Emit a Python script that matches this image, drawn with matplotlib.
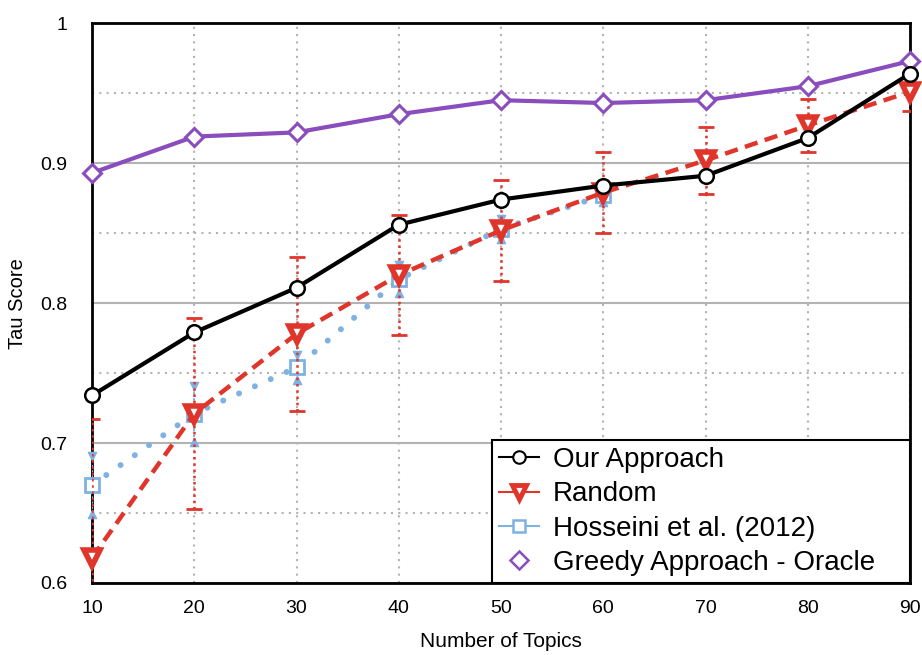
import numpy as np
import matplotlib.pyplot as plt
from matplotlib.ticker import MultipleLocator, FixedLocator

plt.rcParams['font.family'] = ['Liberation Sans', 'DejaVu Sans']

topics = [10, 20, 30, 40, 50, 60, 70, 80, 90]
ours = [0.734, 0.779, 0.811, 0.856, 0.874, 0.884, 0.891, 0.918, 0.964]
greedy = [0.893, 0.919, 0.922, 0.935, 0.945, 0.943, 0.945, 0.955, 0.973]
rand = [0.618, 0.721, 0.778, 0.820, 0.852, 0.879, 0.902, 0.927, 0.951]
rand_err = [0.099, 0.068, 0.055, 0.043, 0.036, 0.029, 0.024, 0.019, 0.014]
hoss_x = [10, 20, 30, 40, 50, 60]
hoss = [0.670, 0.721, 0.754, 0.817, 0.853, 0.877]
hoss_err = [0.021, 0.020, 0.009, 0.010, 0.007, 0.005]

red = '#e0352b'
blue = '#7fb2e3'
purple = '#8a4dbd'
grey = '#b3b3b3'

fig = plt.figure(figsize=(9.22, 6.55), dpi=100)
ax = fig.add_axes([0.0998, 0.110, 0.8872, 0.8545])

# grids
ax.yaxis.set_major_locator(FixedLocator([0.6, 0.7, 0.8, 0.9, 1.0]))
ax.yaxis.set_minor_locator(MultipleLocator(0.05))
ax.xaxis.set_major_locator(FixedLocator(topics))
ax.grid(axis='y', which='major', color=grey, lw=1.5, ls='-')
ax.grid(axis='y', which='minor', color=grey, lw=1.5, ls=(0, (1, 2.5)))
ax.grid(axis='x', which='major', color=grey, lw=1.5, ls=(0, (1, 2.5)))
ax.set_axisbelow(True)

# Hosseini
eb = ax.errorbar(hoss_x, hoss, yerr=hoss_err, fmt='none', ecolor=blue,
                 elinewidth=1.5, capsize=0, zorder=3)
eb[2][0].set_linestyle((0, (1, 1.5)))
ax.scatter(hoss_x, np.array(hoss) + np.array(hoss_err), marker='v', s=35,
           color=blue, zorder=3, clip_on=False)
ax.scatter(hoss_x, np.array(hoss) - np.array(hoss_err), marker='^', s=35,
           color=blue, zorder=3, clip_on=False)
ax.plot(hoss_x, hoss, color=blue, lw=4.3, ls=(0, (0.01, 2.9)),
        dash_capstyle='round', zorder=3)
ax.plot(hoss_x, hoss, ls='none', marker='s', ms=10, mfc='white', mec=blue,
        mew=2, zorder=4, clip_on=False)

# Random
eb = ax.errorbar(topics, rand, yerr=rand_err, fmt='none', ecolor=red,
                 elinewidth=1.8, capsize=6, capthick=2, zorder=5)
eb[2][0].set_linestyle((0, (1, 1.5)))
ax.plot(topics, rand, color=red, lw=3.2, ls=(0, (3, 1.7)), zorder=5)
ax.plot(topics, rand, ls='none', marker='v', ms=12, mfc='white', mec=red,
        mew=4, zorder=6, clip_on=False)

# Greedy
ax.plot(topics, greedy, color=purple, lw=3, zorder=6)
ax.plot(topics, greedy, ls='none', marker='D', ms=9, mfc='white', mec=purple,
        mew=2.2, zorder=7, clip_on=False)

# Our approach
ax.plot(topics, ours, color='black', lw=3, zorder=7)
ax.plot(topics, ours, ls='none', marker='o', ms=10.5, mfc='white', mec='black',
        mew=1.8, zorder=8, clip_on=False)

# legend proxies
h1, = ax.plot([], [], color='black', lw=1.5, marker='o', ms=9, mfc='white', mec='black', mew=1.5)
h2, = ax.plot([], [], color=red, lw=1.5, marker='v', ms=10, mfc='white', mec=red, mew=3.5)
h3, = ax.plot([], [], color=blue, lw=1.5, marker='s', ms=9, mfc='white', mec=blue, mew=1.8)
h4, = ax.plot([], [], color=purple, lw=0, marker='D', ms=9, mfc='white', mec=purple, mew=1.8)
leg = ax.legend([h1, h2, h3, h4],
                ['Our Approach', 'Random', 'Hosseini et al. (2012)', 'Greedy Approach - Oracle'],
                loc='lower left', bbox_to_anchor=(0.489, 0.0, 0.511, 0.25), mode='expand',
                borderaxespad=0, fontsize=20, handlelength=1.45,
                handletextpad=0.5, fancybox=False, framealpha=1, edgecolor='black',
                borderpad=0.25, labelspacing=0.3)
leg.get_frame().set_linewidth(1.5)
leg.set_zorder(20)

ax.set_xlim(10, 90)
ax.set_ylim(0.6, 1.0)
ax.set_yticklabels(['0.6', '0.7', '0.8', '0.9', '1'])
ax.tick_params(axis='both', which='both', length=0, labelsize=14)
ax.tick_params(axis='y', pad=18)
ax.tick_params(axis='x', pad=12)
for s in ax.spines.values():
    s.set_linewidth(2)
ax.set_xlabel('Number of Topics', fontsize=15, labelpad=11)
ax.set_ylabel('Tau Score', fontsize=14.5, labelpad=9)

fig.savefig('out.png', dpi=100)
